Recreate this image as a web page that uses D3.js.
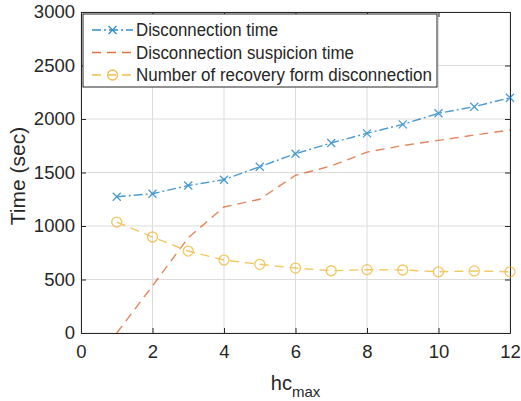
<!DOCTYPE html>
<html>
<head>
<meta charset="utf-8">
<script src="https://cdn.jsdelivr.net/npm/d3@7"></script>
<style>
  body { margin: 0; background: #fff; }
  svg text { font-family: "Liberation Sans", Arial, sans-serif; fill: #262626; }
</style>
</head>
<body>
<svg id="chart" width="521" height="401"></svg>
<script>
// data
const hcMax = [1, 2, 3, 4, 5, 6, 7, 8, 9, 10, 11, 12];
const disconnectionTime = [1274, 1302, 1378, 1433, 1554, 1676, 1776, 1866, 1950, 2053, 2115, 2199];
const suspicionTime = [0, 440, 890, 1178, 1250, 1474, 1561, 1690, 1752, 1800, 1850, 1897];
const recoveryCount = [1037, 897, 766, 682, 642, 607, 582, 592, 589, 572, 580, 572];
const xTicks = [0, 2, 4, 6, 8, 10, 12];
const yTicks = [0, 500, 1000, 1500, 2000, 2500, 3000];
const seriesNames = ["Disconnection time", "Disconnection suspicion time", "Number of recovery form disconnection"];

const margin = { top: 12, right: 11, bottom: 68, left: 81 };
const width = 521 - margin.left - margin.right;
const height = 401 - margin.top - margin.bottom;
// legend label widths as drawn in the reference
const legendTextWidth = [142, 218, 296];

const svg = d3.select("#chart");
const g = svg.append("g").attr("transform", `translate(${margin.left},${margin.top})`);

const x = d3.scaleLinear().domain([0, 12]).range([0, width]);
const y = d3.scaleLinear().domain([0, 3000]).range([height, 0]);

// grid
g.append("g").selectAll("line").data(xTicks).join("line")
  .attr("x1", d => x(d)).attr("x2", d => x(d)).attr("y1", 0).attr("y2", height)
  .attr("stroke", "#dcdcdc").attr("stroke-width", 1);
g.append("g").selectAll("line").data(yTicks).join("line")
  .attr("y1", d => y(d)).attr("y2", d => y(d)).attr("x1", 0).attr("x2", width)
  .attr("stroke", "#dcdcdc").attr("stroke-width", 1);

// axes
const xAxis = g.append("g").attr("transform", `translate(0,${height})`)
  .call(d3.axisBottom(x).tickValues(xTicks).tickFormat(d3.format("d")).tickSize(-5).tickPadding(12).tickSizeOuter(0));
const yAxis = g.append("g")
  .call(d3.axisLeft(y).tickValues(yTicks).tickFormat(d3.format("d")).tickSize(-5).tickPadding(6).tickSizeOuter(0));
// top/right ticks
g.append("g").call(d3.axisTop(x).tickValues(xTicks).tickSize(-5).tickFormat("").tickSizeOuter(0));
g.append("g").attr("transform", `translate(${width},0)`)
  .call(d3.axisRight(y).tickValues(yTicks).tickSize(-5).tickFormat("").tickSizeOuter(0));
svg.selectAll(".domain, .tick line").attr("stroke", "#262626");
[xAxis, yAxis].forEach(a => a.selectAll("text").style("font-size", "18.5px").attr("fill", "#262626"));

// axis labels
const xl = g.append("text").attr("x", width / 2).attr("y", height + 57)
  .attr("text-anchor", "middle").style("font-size", "20px");
xl.append("tspan").text("hc");
xl.append("tspan").attr("dy", 7).style("font-size", "15px").text("max");
g.append("text").attr("transform", "rotate(-90)")
  .attr("x", -164).attr("y", -56)
  .attr("text-anchor", "middle").style("font-size", "21px").text("Time (sec)");

// series
const series = [
  { name: seriesNames[0], values: disconnectionTime, color: "#0072BD", dash: "9,3,2,3", marker: "x" },
  { name: seriesNames[1], values: suspicionTime, color: "#D95319", dash: "9,6", marker: null },
  { name: seriesNames[2], values: recoveryCount, color: "#EDB120", dash: "9,6", marker: "o" }
];

const line = d3.line().x((d, i) => x(hcMax[i])).y(d => y(d));

function drawMarker(sel, type, color) {
  if (type === "x") {
    sel.append("path").attr("d", "M-4,-4L4,4M-4,4L4,-4")
      .attr("stroke", color).attr("stroke-width", 1.3).attr("fill", "none");
  } else if (type === "o") {
    sel.append("circle").attr("r", 5)
      .attr("stroke", color).attr("stroke-width", 1.3).attr("fill", "none");
  }
}

const plot = g.append("g").attr("opacity", 0.7);
series.forEach(s => {
  plot.append("path").datum(s.values)
    .attr("d", line).attr("fill", "none")
    .attr("stroke", s.color).attr("stroke-width", 1.4)
    .attr("stroke-dasharray", s.dash);
  if (s.marker) {
    plot.append("g").selectAll("g").data(s.values).join("g")
      .attr("transform", (d, i) => `translate(${x(hcMax[i])},${y(d)})`)
      .each(function () { drawMarker(d3.select(this), s.marker, s.color); });
  }
});

// legend
const legend = g.append("g").attr("transform", "translate(2,2)");
legend.append("rect").attr("width", 354).attr("height", 73)
  .attr("fill", "#fff").attr("stroke", "#262626").attr("stroke-width", 1);
series.forEach((s, i) => {
  const row = legend.append("g").attr("transform", `translate(0,${16 + i * 22.5})`).attr("opacity", 0.8);
  row.append("line").attr("x1", 9).attr("x2", 50).attr("y1", 0).attr("y2", 0)
    .attr("stroke", s.color).attr("stroke-width", 1.4).attr("stroke-dasharray", s.dash);
  const m = row.append("g").attr("transform", "translate(29.5,0)");
  drawMarker(m, s.marker, s.color);
  legend.append("text").attr("x", 53).attr("y", 16 + i * 22.5 + 6)
    .style("font-size", "18px")
    .attr("textLength", legendTextWidth[i]).attr("lengthAdjust", "spacingAndGlyphs")
    .text(s.name);
});
</script>
</body>
</html>
